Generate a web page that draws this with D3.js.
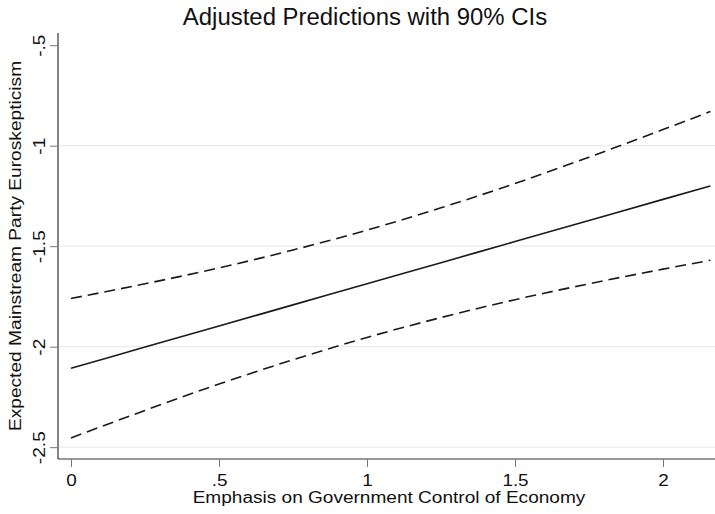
<!DOCTYPE html>
<html>
<head>
<meta charset="utf-8">
<script src="https://cdn.jsdelivr.net/npm/d3@7"></script>
<style>
  html, body { margin: 0; padding: 0; background: #fff; }
  svg { display: block; font-family: "Liberation Sans", Arial, Helvetica, sans-serif; }
</style>
</head>
<body>
<svg id="chart" width="715" height="514"></svg>
<script>
// ---- data ----
const xValues   = [0, 0.25, 0.5, 0.75, 1.0, 1.25, 1.5, 1.75, 2.0, 2.16];
const predicted = [-2.107, -2.002, -1.897, -1.792, -1.687, -1.582, -1.477, -1.372, -1.267, -1.200];
const upperCI   = [-1.760, -1.687, -1.608, -1.519, -1.420, -1.309, -1.188, -1.057, -0.920, -0.830];
const lowerCI   = [-2.454, -2.317, -2.186, -2.065, -1.954, -1.855, -1.766, -1.687, -1.614, -1.570];
const xTicks = [0, 0.5, 1, 1.5, 2];
const xTickLabels = ["0", ".5", "1", "1.5", "2"];
const yTicks = [-0.5, -1, -1.5, -2, -2.5];
const yTickLabels = ["-.5", "-1", "-1.5", "-2", "-2.5"];
const gridTicks = [-1, -1.5, -2, -2.5];
const titleText = "Adjusted Predictions with 90% CIs";
const xLabel = "Emphasis on Government Control of Economy";
const yLabel = "Expected Mainstream Party Euroskepticism";

// ---- layout ----
const svg = d3.select("#chart");
const plotLeft = 58, plotRight = 715, plotTop = 33, plotBottom = 459;

const x = d3.scaleLinear().domain([0, 2]).range([71, 663]);
const y = d3.scaleLinear().domain([-2.5, -0.5]).range([447.2, 45.2]);

// stretch text horizontally to mimic the wide rendering of the reference
function widen(sel, factor) {
  sel.each(function () {
    const w = this.getComputedTextLength();
    d3.select(this).attr("textLength", w * factor).attr("lengthAdjust", "spacingAndGlyphs");
  });
}

// gridlines
svg.append("g").selectAll("line").data(gridTicks).join("line")
  .attr("x1", plotLeft + 1).attr("x2", plotRight)
  .attr("y1", d => y(d)).attr("y2", d => y(d))
  .attr("stroke", "#ececec").attr("stroke-width", 1.2);

// axes
const yAxis = d3.axisLeft(y).tickValues(yTicks).tickSize(8).tickFormat((d, i) => yTickLabels[i]);
const gy = svg.append("g").attr("transform", `translate(${plotLeft},0)`).call(yAxis);
gy.select(".domain").attr("d", `M0,${plotTop}V${plotBottom}`).attr("stroke", "#333").attr("stroke-width", 1.2);
gy.selectAll(".tick line").attr("stroke", "#777");
gy.selectAll(".tick text")
  .attr("x", null).attr("dy", null)
  .attr("transform", "translate(-13,0) rotate(-90)")
  .attr("text-anchor", "middle")
  .attr("font-size", 16.5).attr("fill", "#111")
  .attr("font-family", "Liberation Sans, Arial, sans-serif")
  .call(widen, 1.16);

const xAxis = d3.axisBottom(x).tickValues(xTicks).tickSize(8).tickFormat((d, i) => xTickLabels[i]);
const gx = svg.append("g").attr("transform", `translate(0,${plotBottom})`).call(xAxis);
gx.select(".domain").attr("d", `M${plotLeft},0H${plotRight}`).attr("stroke", "#333").attr("stroke-width", 1.2);
gx.selectAll(".tick line").attr("stroke", "#777");
gx.selectAll(".tick text")
  .attr("y", 26.5).attr("dy", null)
  .attr("font-size", 16).attr("fill", "#111")
  .attr("font-family", "Liberation Sans, Arial, sans-serif")
  .call(widen, 1.18);

// lines
const pts = (arr) => xValues.map((v, i) => [v, arr[i]]);
const line = d3.line().x(d => x(d[0])).y(d => y(d[1])).curve(d3.curveMonotoneX);

svg.append("path").datum(pts(upperCI)).attr("d", line)
  .attr("fill", "none").attr("stroke", "#1a1a1a").attr("stroke-width", 1.6)
  .attr("stroke-dasharray", "11,6");
svg.append("path").datum(pts(lowerCI)).attr("d", line)
  .attr("fill", "none").attr("stroke", "#1a1a1a").attr("stroke-width", 1.6)
  .attr("stroke-dasharray", "11,6");
svg.append("path").datum(pts(predicted)).attr("d", line)
  .attr("fill", "none").attr("stroke", "#1a1a1a").attr("stroke-width", 1.6);

// texts
svg.append("text").attr("x", 365).attr("y", 25)
  .attr("text-anchor", "middle").attr("font-size", 23).attr("fill", "#111")
  .text(titleText)
  .call(widen, 1.04);

svg.append("text").attr("x", 389).attr("y", 503)
  .attr("text-anchor", "middle").attr("font-size", 16).attr("fill", "#111")
  .text(xLabel)
  .call(widen, 1.19);

svg.append("text")
  .attr("transform", "translate(21,246) rotate(-90)")
  .attr("text-anchor", "middle").attr("font-size", 16.5).attr("fill", "#111")
  .text(yLabel)
  .call(widen, 1.16);
</script>
</body>
</html>
